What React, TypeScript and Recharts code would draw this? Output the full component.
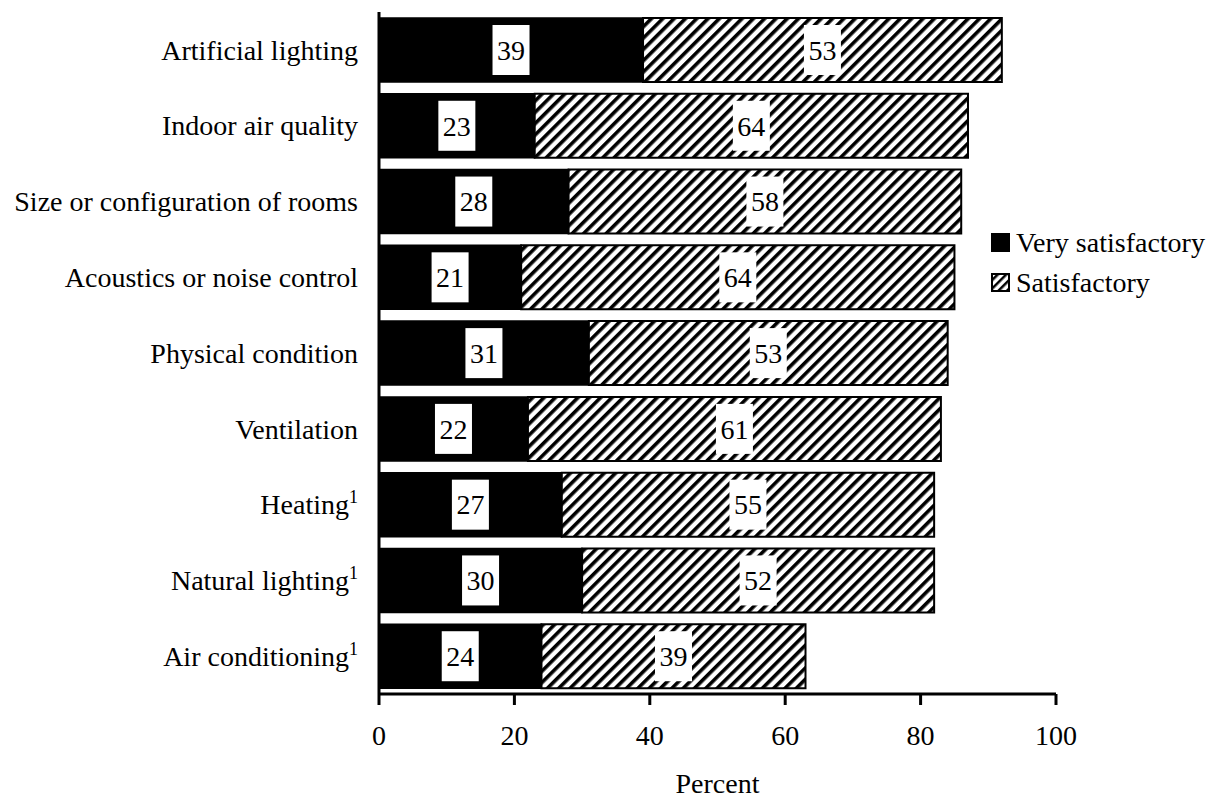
import React from "react";
import { BarChart, Bar, XAxis, YAxis, LabelList, Legend } from "recharts";

const categories = [
  "Artificial lighting",
  "Indoor air quality",
  "Size or configuration of rooms",
  "Acoustics or noise control",
  "Physical condition",
  "Ventilation",
  "Heating",
  "Natural lighting",
  "Air conditioning",
];
const footnotes = ["", "", "", "", "", "", "1", "1", "1"];
const verySatisfactory = [39, 23, 28, 21, 31, 22, 27, 30, 24];
const satisfactory = [53, 64, 58, 64, 53, 61, 55, 52, 39];
const seriesNames = ["Very satisfactory", "Satisfactory"];
const xTicks = [0, 20, 40, 60, 80, 100];
const xLabel = "Percent";

const data = categories.map((name, i) => ({
  name,
  note: footnotes[i],
  very: verySatisfactory[i],
  sat: satisfactory[i],
}));

const FONT = "'Liberation Serif', 'Times New Roman', serif";

const CatTick = (props: any) => {
  const { x, y, payload } = props;
  const idx = categories.indexOf(payload.value);
  const note = idx >= 0 ? footnotes[idx] : "";
  return (
    <text
      x={x}
      y={y}
      dy="0.35em"
      textAnchor="end"
      fontFamily={FONT}
      fontSize={28}
      fill="#000"
    >
      {payload.value}
      {note ? (
        <tspan fontSize={18} dy={-11}>
          {note}
        </tspan>
      ) : null}
    </text>
  );
};

const BoxLabel = (props: any) => {
  const { x, y, width, height, value } = props;
  const cx = Number(x) + Number(width) / 2;
  const cy = Number(y) + Number(height) / 2;
  const w = String(value).length * 14 + 9;
  return (
    <g>
      <rect x={cx - w / 2} y={cy - 25} width={w} height={50} fill="#fff" />
      <text
        x={cx}
        y={cy}
        dy="0.35em"
        textAnchor="middle"
        fontFamily={FONT}
        fontSize={28}
        fill="#000"
      >
        {value}
      </text>
    </g>
  );
};

const LegendContent = () => (
  <div style={{ fontFamily: FONT, fontSize: 28, color: "#000", lineHeight: "40px" }}>
    {seriesNames.map((n, i) => (
      <div key={n} style={{ display: "flex", alignItems: "center", height: 40 }}>
        <svg width={22} height={22} style={{ marginRight: 4 }}>
          <defs>
            <pattern
              id="legHatch"
              patternUnits="userSpaceOnUse"
              width="6"
              height="6"
              patternTransform="rotate(45)"
            >
              <rect width="6" height="6" fill="#fff" />
              <rect width="2.5" height="6" fill="#000" />
            </pattern>
          </defs>
          <rect
            x={2}
            y={2}
            width={17}
            height={17}
            fill={i === 0 ? "#000" : "url(#legHatch)"}
            stroke="#000"
            strokeWidth={2}
          />
        </svg>
        <span>{n}</span>
      </div>
    ))}
  </div>
);

export default function App() {
  return (
    <div style={{ position: "absolute", left: 0, top: 0, background: "#fff" }}>
      <BarChart
        width={1219}
        height={797}
        data={data}
        layout="vertical"
        margin={{ top: 12, right: 163, bottom: 0, left: 0 }}
        barSize={64}
      >
        <defs>
          <pattern
            id="hatch"
            patternUnits="userSpaceOnUse"
            width="8"
            height="8"
            patternTransform="rotate(45)"
          >
            <rect width="8" height="8" fill="#fff" />
            <rect x="0" y="0" width="3.6" height="8" fill="#000" />
          </pattern>
        </defs>
        <XAxis
          type="number"
          domain={[0, 100]}
          ticks={xTicks}
          height={103}
          axisLine={{ stroke: "#000", strokeWidth: 3 }}
          tickLine={{ stroke: "#000", strokeWidth: 3 }}
          tickSize={11}
          tickMargin={20}
          tick={{ fontFamily: FONT, fontSize: 28, fill: "#000" }}
          label={{
            value: xLabel,
            position: "insideBottom",
            offset: 4,
            style: { fontFamily: FONT, fontSize: 28, fill: "#000" },
          }}
        />
        <YAxis
          type="category"
          dataKey="name"
          width={379}
          axisLine={{ stroke: "#000", strokeWidth: 3 }}
          tickLine={false}
          tickSize={0}
          tickMargin={21}
          tick={<CatTick />}
          interval={0}
        />
        <Legend
          content={<LegendContent />}
          layout="horizontal"
          verticalAlign="middle"
          align="center"
          wrapperStyle={{ position: "absolute", left: 990, top: 223, width: 229 }}
        />
        <Bar
          dataKey="very"
          name={seriesNames[0]}
          stackId="a"
          fill="#000"
          stroke="#000"
          strokeWidth={1.5}
          isAnimationActive={false}
        >
          <LabelList dataKey="very" content={<BoxLabel />} />
        </Bar>
        <Bar
          dataKey="sat"
          name={seriesNames[1]}
          stackId="a"
          fill="url(#hatch)"
          stroke="#000"
          strokeWidth={2}
          isAnimationActive={false}
        >
          <LabelList dataKey="sat" content={<BoxLabel />} />
        </Bar>
      </BarChart>
    </div>
  );
}
